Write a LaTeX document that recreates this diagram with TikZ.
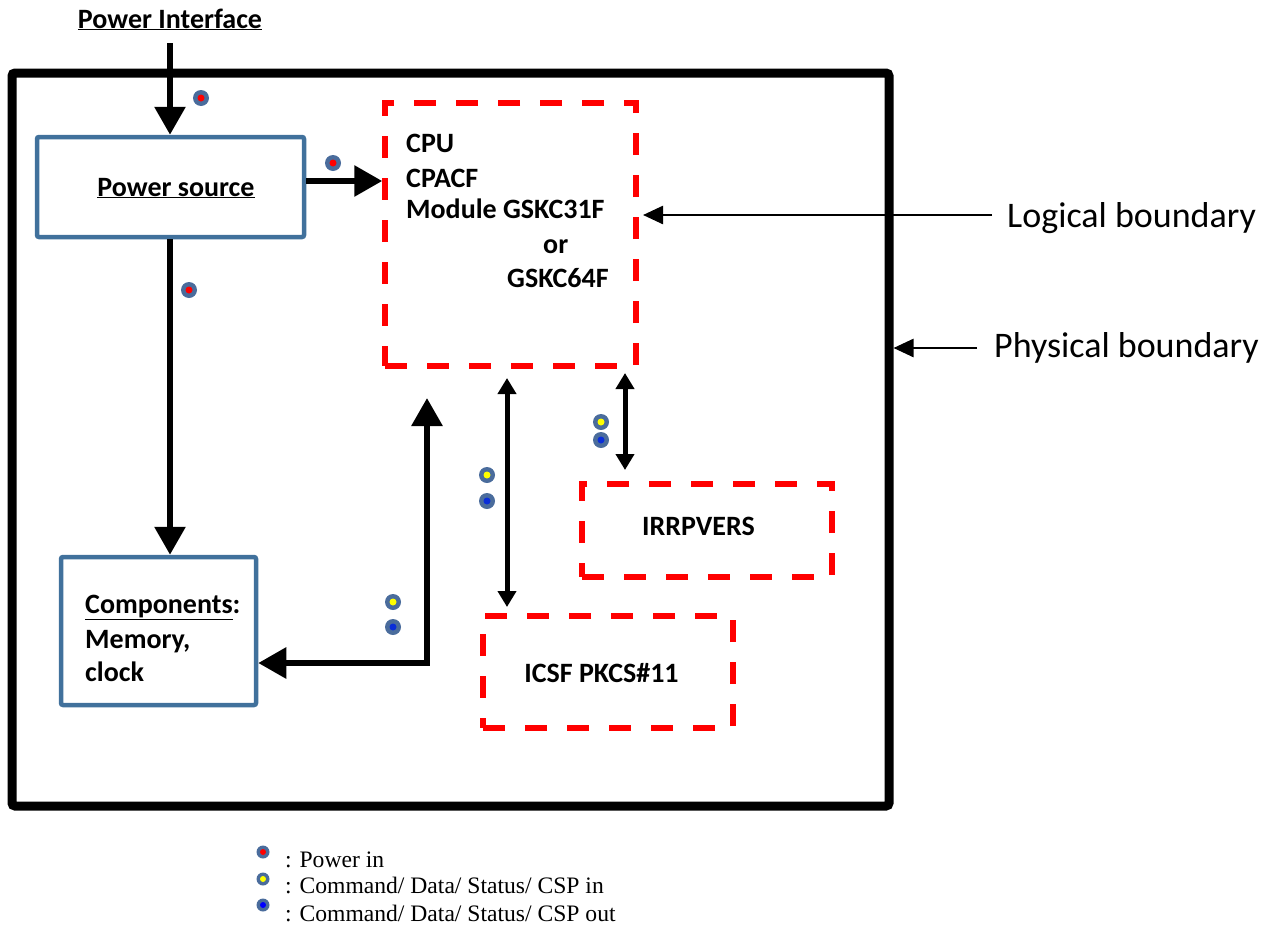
\documentclass[tikz,border=0pt]{standalone}
\usepackage{fontspec}
\setmainfont{Carlito}
\newfontfamily\legendfont{Liberation Serif}
\usetikzlibrary{arrows.meta}
\definecolor{boxblue}{HTML}{41719C}
\definecolor{dotring}{HTML}{4A6C9C}
\definecolor{dashred}{HTML}{FF0000}
\definecolor{dotyellow}{HTML}{FFFF00}
\definecolor{dotblue}{HTML}{0A2ED8}
\begin{document}
\begin{tikzpicture}[x=1pt,y=-1pt,
  bluebox/.style={draw=boxblue, line width=4.5pt, rounded corners=2pt, inner sep=0pt},
  redbox/.style={draw=dashred, line width=5.5pt, dash pattern=on 22pt off 20pt, inner sep=0pt},
  frame/.style={draw=black, line width=9pt, rounded corners=3pt, inner sep=0pt},
  lbl/.style={font=\fontsize{28}{34}\selectfont\bfseries, inner sep=0pt, anchor=base west},
  bndlbl/.style={font=\fontsize{36}{40}\selectfont, inner sep=0pt, anchor=base west},
  leglbl/.style={font=\legendfont\fontsize{23.6}{26}\selectfont, inner sep=0pt, anchor=base west},
  bigarrow/.style={line width=6pt, -{Triangle[length=28pt,width=30pt]}},
  bigdbl/.style={line width=6pt, {Triangle[length=28pt,width=30pt]}-{Triangle[length=28pt,width=30pt]}},
  smalldbl/.style={line width=5pt, {Triangle[length=16pt,width=18pt]}-{Triangle[length=16pt,width=18pt]}},
  thinarrow/.style={line width=2.5pt, -{Triangle[length=20pt,width=18pt]}},
  pdot/.style={circle, fill=dotring, minimum size=16pt, inner sep=0pt,
    path picture={\fill[#1] (path picture bounding box.center) circle (3.5);}},
  ldot/.style={circle, fill=dotring, minimum size=13pt, inner sep=0pt,
    path picture={\fill[#1] (path picture bounding box.center) circle (3);}}
]
\useasboundingbox (0,0) rectangle (1274,929);

% physical boundary
\node[frame, minimum width=877pt, minimum height=733pt] (phys) at (450.5,439.5) {};

% boxes
\node[bluebox, minimum width=267pt, minimum height=100pt] (psrc) at (170.5,187) {};
\node[bluebox, minimum width=195pt, minimum height=148pt] (comp) at (158.5,631) {};
\node[redbox, minimum width=251pt, minimum height=263pt] (cpu) at (510.5,234.5) {};
\node[redbox, minimum width=250pt, minimum height=93pt] (irr) at (707,530.5) {};
\node[redbox, minimum width=250pt, minimum height=112pt] (icsf) at (608,672) {};

% texts
\node[lbl, anchor=base] (pitxt) at (170,28) {\underline{Power Interface}};
\node[lbl, anchor=base] (pstxt) at (176,196) {\underline{Power source}};
\node[lbl] (c1) at (406,152) {CPU};
\node[lbl] (c2) at (406,187) {CPACF};
\node[lbl] (c3) at (406,218) {Module GSKC31F};
\node[lbl] (c4) at (543,253) {or};
\node[lbl] (c5) at (507,287) {GSKC64F};
\node[lbl] (m1) at (85,613) {\underline{Components}:};
\node[lbl] (m2) at (85,648) {Memory,};
\node[lbl] (m3) at (85,681) {clock};
\node[lbl, anchor=base] (irrtxt) at (698.5,535) {IRRPVERS};
\node[lbl, anchor=base] (icsftxt) at (601.5,682) {ICSF PKCS\#11};
\node[bndlbl] (lb) at (1007,227) {Logical boundary};
\node[bndlbl] (pb) at (994,357) {Physical boundary};

% coordinates
\coordinate (piStart) at (170,43);
\coordinate (y181) at (0,181);
\coordinate (y663) at (0,663);
\coordinate (cpuIn) at (427,398);
\coordinate (a1top) at (507,378);
\coordinate (a1bot) at (507,607);
\coordinate (a2top) at (625,373);
\coordinate (a2bot) at (625,470);
\coordinate (lbStart) at (992,215);
\coordinate (lbEnd) at (643,215);
\coordinate (pbStart) at (977,348);

% connectors
\draw[bigarrow] (piStart) -- (psrc.north -| piStart);
\draw[bigarrow] (psrc.east |- y181) -- (cpu.west |- y181);
\draw[bigarrow] (psrc.south -| piStart) -- (comp.north -| piStart);
\draw[bigdbl] (cpuIn) |- (comp.east |- y663);
\draw[smalldbl] (a1top) -- (a1bot);
\draw[smalldbl] (a2top) -- (a2bot);
\draw[thinarrow] (lbStart) -- (lbEnd);
\draw[thinarrow] (pbStart) -- (phys.east |- pbStart);

% dots
\node[pdot=red] (d1) at (201,98) {};
\node[pdot=red] (d2) at (333,163) {};
\node[pdot=red] (d3) at (189,290) {};
\node[pdot=dotyellow] (d4) at (393,602) {};
\node[pdot=dotblue] (d5) at (393,627) {};
\node[pdot=dotyellow] (d6) at (487,475) {};
\node[pdot=dotblue] (d7) at (487,501) {};
\node[pdot=dotyellow] (d8) at (601,422) {};
\node[pdot=dotblue] (d9) at (601,440) {};

% legend
\node[ldot=red] (l1) at (263,852) {};
\node[ldot=dotyellow] (l2) at (263,879) {};
\node[ldot=blue] (l3) at (263,905) {};
\node[leglbl] (lt1) at (285,867) {: Power in};
\node[leglbl] (lt2) at (285,893) {: Command/ Data/ Status/ CSP in};
\node[leglbl] (lt3) at (285,921) {: Command/ Data/ Status/ CSP out};
\end{tikzpicture}
\end{document}
